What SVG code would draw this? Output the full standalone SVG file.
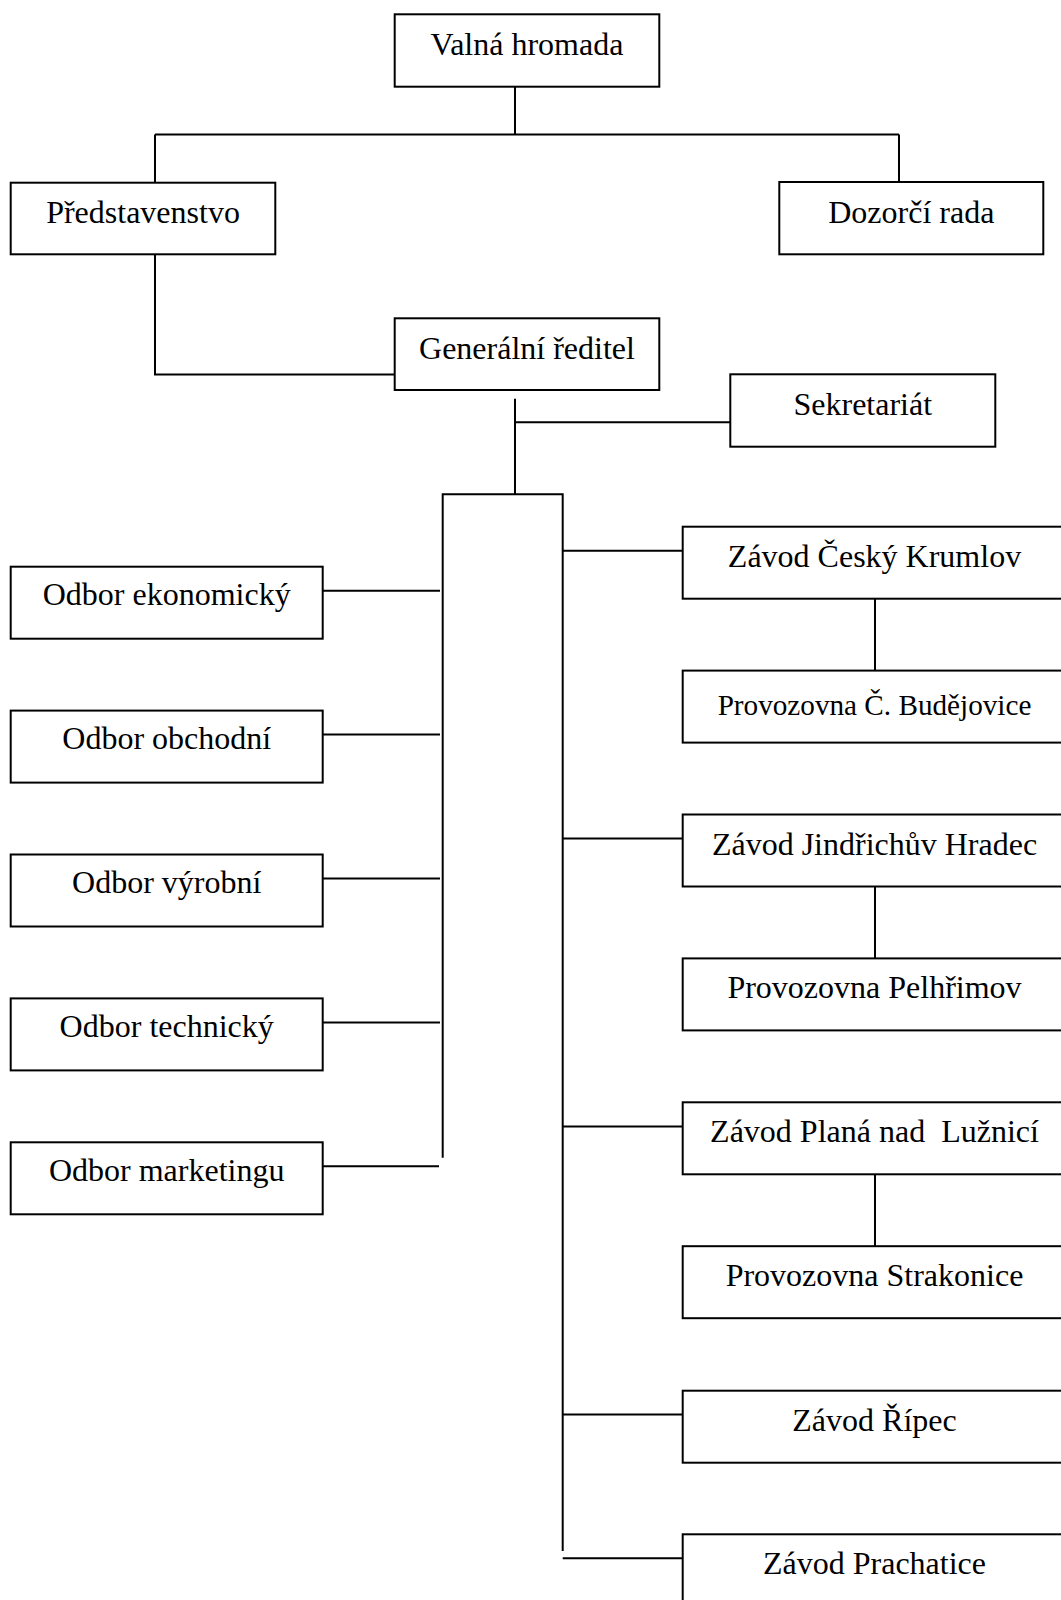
<svg xmlns="http://www.w3.org/2000/svg" width="1061" height="1600" viewBox="0 0 1061 1600">
<style>
.box{fill:#fff;stroke:#000;stroke-width:2}
.ln{fill:none;stroke:#000;stroke-width:2}
text{font-family:"Liberation Serif","Times New Roman",serif;font-size:32px;fill:#000;text-anchor:middle}
.sm{font-size:29.2px}
</style>
<rect width="1061" height="1600" fill="#fff"/>
<g id="connectors" class="ln">
<path d="M515,86.7V134.5M155,134.5H899M155,134.5V182.7M899,134.5V182"/>
<path d="M155,254.3V374.5H394.7"/>
<path d="M515,398.7V494.3M515,422.3H730.3"/>
<path d="M442.7,1157.7V494.3H562.7V1551"/>
<path d="M322.7,590.7H440M322.7,734.6H440M322.7,878.5H440M322.7,1022.4H440M322.7,1166.3H439"/>
<path d="M562.7,550.7H682.7M562.7,838.6H682.7M562.7,1126.5H682.7M562.7,1414.4H682.7M562.7,1558.3H682.7"/>
<path d="M875,590V670.6M875,877.8V958.4M875,1165.6V1246.2"/>
</g>
<g id="valna"><rect class="box" x="394.7" y="14.3" width="264.6" height="72.4"/><text x="527" y="55">Valná hromada</text></g>
<g id="predstavenstvo"><rect class="box" x="10.7" y="182.7" width="264.6" height="71.6"/><text x="143" y="223.3">Představenstvo</text></g>
<g id="dozorci"><rect class="box" x="779.3" y="182" width="264" height="72.3"/><text x="911.3" y="223.3">Dozorčí rada</text></g>
<g id="generalni"><rect class="box" x="394.7" y="318.3" width="264.6" height="71.7"/><text x="527" y="359.3">Generální ředitel</text></g>
<g id="sekretariat"><rect class="box" x="730.3" y="374.3" width="265" height="72.4"/><text x="862.8" y="415">Sekretariát</text></g>
<g id="odbor-ekonomicky"><rect class="box" x="10.7" y="566.7" width="312" height="72"/><text x="166.7" y="605">Odbor ekonomický</text></g>
<g id="odbor-obchodni"><rect class="box" x="10.7" y="710.6" width="312" height="72"/><text x="166.7" y="748.9">Odbor obchodní</text></g>
<g id="odbor-vyrobni"><rect class="box" x="10.7" y="854.5" width="312" height="72"/><text x="166.7" y="892.8">Odbor výrobní</text></g>
<g id="odbor-technicky"><rect class="box" x="10.7" y="998.4" width="312" height="72"/><text x="166.7" y="1036.7">Odbor technický</text></g>
<g id="odbor-marketingu"><rect class="box" x="10.7" y="1142.3" width="312" height="72"/><text x="166.7" y="1180.6">Odbor marketingu</text></g>
<g id="zavod-cesky-krumlov"><rect class="box" x="682.7" y="526.7" width="383.6" height="72"/><text x="874.5" y="566.7">Závod Český Krumlov</text></g>
<g id="provozovna-cb"><rect class="box" x="682.7" y="670.6" width="383.6" height="72"/><text class="sm" x="874.5" y="715">Provozovna Č. Budějovice</text></g>
<g id="zavod-jindrichuv-hradec"><rect class="box" x="682.7" y="814.5" width="383.6" height="72"/><text x="874.5" y="854.5">Závod Jindřichův Hradec</text></g>
<g id="provozovna-pelhrimov"><rect class="box" x="682.7" y="958.4" width="383.6" height="72"/><text x="874.5" y="998.4">Provozovna Pelhřimov</text></g>
<g id="zavod-plana"><rect class="box" x="682.7" y="1102.3" width="383.6" height="72"/><text x="874.5" y="1142.3" xml:space="preserve">Závod Planá nad  Lužnicí</text></g>
<g id="provozovna-strakonice"><rect class="box" x="682.7" y="1246.2" width="383.6" height="72"/><text x="874.5" y="1286.2">Provozovna Strakonice</text></g>
<g id="zavod-ripec"><rect class="box" x="682.7" y="1390.7" width="383.6" height="72"/><text x="874.5" y="1430.7">Závod Řípec</text></g>
<g id="zavod-prachatice"><rect class="box" x="682.7" y="1534.3" width="383.6" height="72"/><text x="874.5" y="1574.3">Závod Prachatice</text></g>
</svg>
